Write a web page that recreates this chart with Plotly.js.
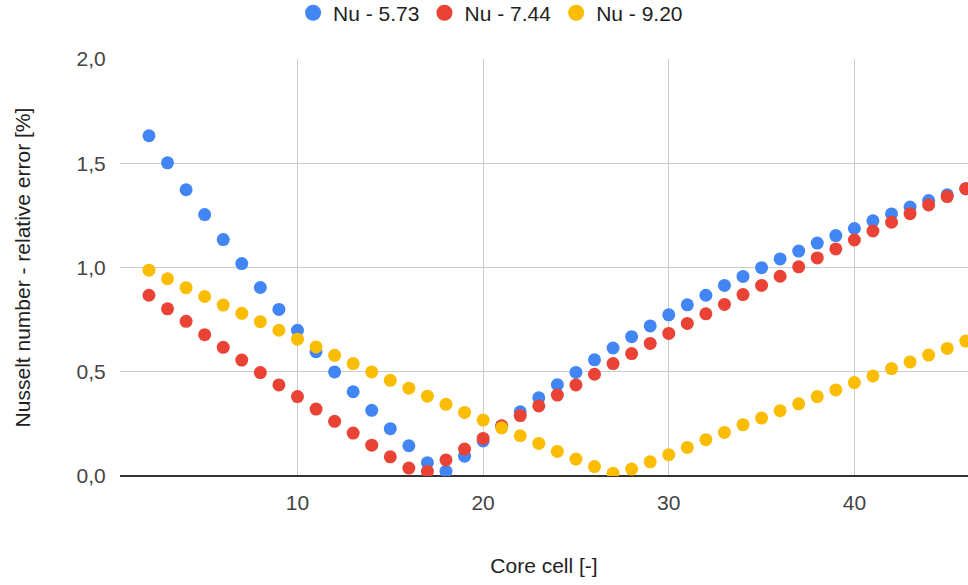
<!DOCTYPE html>
<html>
<head>
<meta charset="utf-8">
<script src="https://cdn.plot.ly/plotly-3.0.1.min.js"></script>
<style>html,body{margin:0;padding:0;background:#fff;}#chart{width:968px;height:585px;}</style>
</head>
<body>
<div id="chart"></div>
<script>
var coreCell = [2,3,4,5,6,7,8,9,10,11,12,13,14,15,16,17,18,19,20,21,22,23,24,25,26,27,28,29,30,31,32,33,34,35,36,37,38,39,40,41,42,43,44,45,46];
var nu573 = [1.632,1.502,1.373,1.254,1.134,1.019,0.904,0.799,0.699,0.596,0.499,0.404,0.315,0.227,0.145,0.064,0.023,0.095,0.168,0.240,0.308,0.375,0.438,0.497,0.557,0.614,0.668,0.720,0.773,0.821,0.867,0.914,0.957,0.999,1.041,1.079,1.117,1.153,1.187,1.224,1.257,1.290,1.321,1.349,1.378];
var nu744 = [0.867,0.802,0.742,0.678,0.617,0.556,0.496,0.437,0.381,0.321,0.262,0.206,0.148,0.092,0.038,0.022,0.077,0.129,0.180,0.241,0.290,0.336,0.388,0.437,0.488,0.539,0.587,0.636,0.684,0.732,0.778,0.823,0.870,0.914,0.958,1.003,1.046,1.089,1.132,1.175,1.217,1.258,1.300,1.340,1.378];
var nu920 = [0.987,0.946,0.903,0.861,0.820,0.780,0.740,0.699,0.656,0.619,0.579,0.539,0.499,0.459,0.421,0.383,0.344,0.305,0.268,0.231,0.193,0.156,0.118,0.081,0.045,0.013,0.033,0.068,0.102,0.137,0.174,0.209,0.246,0.278,0.313,0.346,0.381,0.413,0.448,0.480,0.515,0.547,0.580,0.612,0.647];
var seriesNames = ["Nu - 5.73", "Nu - 7.44", "Nu - 9.20"];
var seriesColors = ["#4285F4", "#EA4335", "#FBBC04"];
var xTicks = [10, 20, 30, 40];
var yTicks = [0, 0.5, 1, 1.5, 2];

var allY = [nu573, nu744, nu920];
var traces = [];
allY.forEach(function(ys, i){
  traces.push({
    x: coreCell, y: ys, name: seriesNames[i], type: 'scatter', mode: 'markers',
    marker: {color: seriesColors[i], size: 13},
    showlegend: false, legendgroup: 'g' + i
  });
});
// legend-only entries (bigger legend symbols)
allY.forEach(function(ys, i){
  traces.push({
    x: [null], y: [null], name: seriesNames[i], type: 'scatter', mode: 'markers',
    marker: {color: seriesColors[i], size: 16},
    showlegend: true, legendgroup: 'g' + i
  });
});

var layout = {
  width: 968, height: 585,
  margin: {l: 120, r: 0, t: 59, b: 109, autoexpand: false},
  paper_bgcolor: '#fff', plot_bgcolor: '#fff',
  font: {family: 'Arial, "Liberation Sans", sans-serif', size: 21, color: '#444'},
  separators: ', ',
  showlegend: true,
  legend: {orientation: 'h', xref: 'paper', yref: 'paper', x: 0.437, xanchor: 'center', y: 1.11, yanchor: 'middle', font: {size: 21, color: '#222'}, itemwidth: 30, tracegroupgap: 0},
  xaxis: {
    range: [0.44, 46.12], tickvals: xTicks, ticktext: xTicks.map(String),
    showgrid: true, gridcolor: '#cccccc', gridwidth: 1, zeroline: false, showline: false,
    ticks: 'outside', ticklen: 8, tickcolor: 'rgba(0,0,0,0)',
    tickfont: {size: 21, color: '#444'},
    title: {text: 'Core cell [-]', font: {size: 21, color: '#222'}, standoff: 45},
    automargin: false
  },
  yaxis: {
    range: [0, 2.0], tickvals: yTicks, tickformat: '.1f',
    showgrid: true, gridcolor: '#cccccc', gridwidth: 1,
    zeroline: true, zerolinecolor: '#333333', zerolinewidth: 1.5, showline: false,
    ticks: 'outside', ticklen: 9, tickcolor: 'rgba(0,0,0,0)',
    tickfont: {size: 21, color: '#444'},
    title: {text: 'Nusselt number - relative error [%]', font: {size: 21, color: '#222'}, standoff: 40},
    automargin: false
  }
};

Plotly.newPlot('chart', traces, layout, {displayModeBar: false, staticPlot: true});
</script>
</body>
</html>
